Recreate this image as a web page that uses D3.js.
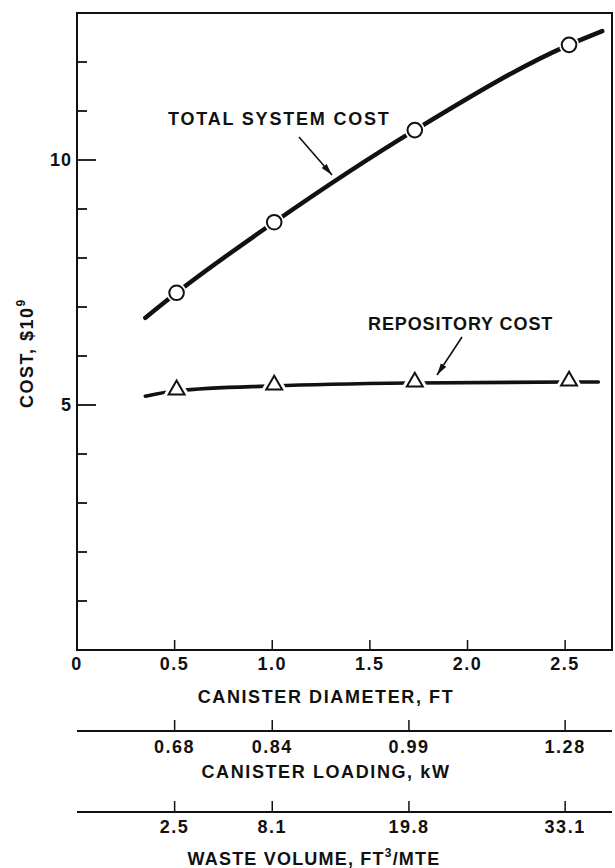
<!DOCTYPE html>
<html>
<head>
<meta charset="utf-8">
<script src="https://cdn.jsdelivr.net/npm/d3@7"></script>
<style>
  body { margin: 0; background: #fff; }
  svg text { font-family: "Liberation Sans", Arial, sans-serif; font-weight: bold; fill: #111; }
</style>
</head>
<body>
<div id="chart"></div>
<script>
// canister diameter (ft) of the four cases
var caseDiameter = [0.51, 1.01, 1.73, 2.52];
var totalCost = [7.29, 8.73, 10.61, 12.35];       // $10^9
var repositoryCost = [5.29, 5.39, 5.45, 5.47];    // $10^9

// faired curves run a bit past the end points
var totalCurveX = [0.35, 0.51, 1.01, 1.73, 2.52, 2.69];
var totalCurveY = [6.78, 7.29, 8.73, 10.61, 12.35, 12.63];
var repoCurveX = [0.35, 0.51, 1.01, 1.73, 2.52, 2.67];
var repoCurveY = [5.18, 5.29, 5.39, 5.45, 5.47, 5.47];

var diameterTicks = [0, 0.5, 1.0, 1.5, 2.0, 2.5];
var costTicks = [1, 2, 3, 4, 5, 6, 7, 8, 9, 10, 11, 12];
var costLabels = [5, 10];

// secondary scales, ticks placed at the diameters of the cases
var secondaryTickPos = [0.5, 1.0, 1.7, 2.5];
var loadingLabels = ["0.68", "0.84", "0.99", "1.28"];
var wasteLabels = ["2.5", "8.1", "19.8", "33.1"];

var width = 615, height = 868;
var plotL = 77, plotR = 612, plotT = 13, plotB = 650;

var svg = d3.select("#chart").append("svg")
    .attr("width", width)
    .attr("height", height);

var x = d3.scaleLinear().domain([0, 2.74]).range([plotL, plotR]);
var y = d3.scaleLinear().domain([0, 13]).range([plotB, plotT]);

svg.append("defs").append("marker")
    .attr("id", "arrow")
    .attr("viewBox", "0 0 12 8")
    .attr("refX", 12).attr("refY", 4)
    .attr("markerWidth", 12).attr("markerHeight", 8)
    .attr("markerUnits", "userSpaceOnUse")
    .attr("orient", "auto")
  .append("path")
    .attr("d", "M0,0.8 L12,4 L0,7.2 Z")
    .attr("fill", "#111");

// frame
svg.append("rect")
    .attr("x", plotL).attr("y", plotT)
    .attr("width", plotR - plotL).attr("height", plotB - plotT)
    .attr("fill", "none")
    .attr("stroke", "#111")
    .attr("stroke-width", 2);

// y ticks (inside)
svg.append("g").selectAll("line")
    .data(costTicks)
    .enter().append("line")
      .attr("x1", plotL)
      .attr("x2", function(d) { return costLabels.indexOf(d) >= 0 ? plotL + 19 : plotL + 10; })
      .attr("y1", function(d) { return y(d); })
      .attr("y2", function(d) { return y(d); })
      .attr("stroke", "#111")
      .attr("stroke-width", 1.8);

svg.append("g").selectAll("text")
    .data(costLabels)
    .enter().append("text")
      .attr("x", plotL - 5)
      .attr("y", function(d) { return y(d) + 6; })
      .attr("text-anchor", "end")
      .style("font-size", "18px")
      .style("letter-spacing", "1px")
      .text(function(d) { return d; });

// y title
var yt = svg.append("text")
    .attr("transform", "translate(33,408) rotate(-90)")
    .style("font-size", "18px")
    .style("letter-spacing", "1.5px");
yt.append("tspan").text("COST, $10");
yt.append("tspan").attr("dy", -8).style("font-size", "12px").text("9");

// x ticks (inside)
svg.append("g").selectAll("line")
    .data(diameterTicks.filter(function(d) { return d > 0; }))
    .enter().append("line")
      .attr("x1", function(d) { return x(d); })
      .attr("x2", function(d) { return x(d); })
      .attr("y1", plotB)
      .attr("y2", plotB - 10)
      .attr("stroke", "#111")
      .attr("stroke-width", 1.5);

svg.append("g").selectAll("text")
    .data(diameterTicks)
    .enter().append("text")
      .attr("x", function(d) { return x(d); })
      .attr("y", 670)
      .attr("text-anchor", "middle")
      .style("font-size", "18px")
      .style("letter-spacing", "1.5px")
      .text(function(d) { return d === 0 ? "0" : d3.format(".1f")(d); });

svg.append("text")
    .attr("x", 326).attr("y", 703)
    .attr("text-anchor", "middle")
    .style("font-size", "18px")
    .style("letter-spacing", "1.6px")
    .text("CANISTER DIAMETER, FT");

// secondary axes
function secondaryAxis(lineY, labels, labelY) {
  var g = svg.append("g");
  g.append("line")
      .attr("x1", plotL).attr("x2", plotR)
      .attr("y1", lineY).attr("y2", lineY)
      .attr("stroke", "#111").attr("stroke-width", 2);
  g.selectAll(".tk")
      .data(secondaryTickPos)
      .enter().append("line")
        .attr("x1", function(d) { return x(d); })
        .attr("x2", function(d) { return x(d); })
        .attr("y1", lineY)
        .attr("y2", lineY - 11)
        .attr("stroke", "#111")
        .attr("stroke-width", 1.5);
  g.selectAll("text")
      .data(labels)
      .enter().append("text")
        .attr("x", function(d, i) { return x(secondaryTickPos[i]); })
        .attr("y", labelY)
        .attr("text-anchor", "middle")
        .style("font-size", "18px")
        .style("letter-spacing", "1.5px")
        .text(function(d) { return d; });
  return g;
}

secondaryAxis(731, loadingLabels, 753);
svg.append("text")
    .attr("x", 326).attr("y", 778)
    .attr("text-anchor", "middle")
    .style("font-size", "18px")
    .style("letter-spacing", "1.6px")
    .text("CANISTER LOADING, kW");

secondaryAxis(812, wasteLabels, 833);
var wt = svg.append("text")
    .attr("x", 314).attr("y", 865)
    .attr("text-anchor", "middle")
    .style("font-size", "18px")
    .style("letter-spacing", "1.2px");
wt.append("tspan").text("WASTE VOLUME, FT");
wt.append("tspan").attr("dy", -8).style("font-size", "12px").text("3");
wt.append("tspan").attr("dy", 8).text("/MTE");

// curves
var line = d3.line()
    .x(function(d) { return x(d[0]); })
    .y(function(d) { return y(d[1]); })
    .curve(d3.curveMonotoneX);

svg.append("path")
    .datum(d3.zip(totalCurveX, totalCurveY))
    .attr("d", line)
    .attr("fill", "none")
    .attr("stroke", "#111")
    .attr("stroke-width", 4.5)
    .attr("stroke-linecap", "round");

svg.append("path")
    .datum(d3.zip(repoCurveX, repoCurveY))
    .attr("d", line)
    .attr("fill", "none")
    .attr("stroke", "#111")
    .attr("stroke-width", 3.6)
    .attr("stroke-linecap", "round");

// markers
var totalPts = d3.zip(caseDiameter, totalCost);
svg.append("g").selectAll("circle.halo")
    .data(totalPts)
    .enter().append("circle")
      .attr("cx", function(d) { return x(d[0]); })
      .attr("cy", function(d) { return y(d[1]); })
      .attr("r", 10)
      .attr("fill", "#fff");
svg.append("g").selectAll("circle.pt")
    .data(totalPts)
    .enter().append("circle")
      .attr("cx", function(d) { return x(d[0]); })
      .attr("cy", function(d) { return y(d[1]); })
      .attr("r", 7.3)
      .attr("fill", "#fff")
      .attr("stroke", "#111")
      .attr("stroke-width", 2);

var repoPts = d3.zip(caseDiameter, repositoryCost);
var tri = d3.symbol().type(d3.symbolTriangle);
svg.append("g").selectAll("path.halo")
    .data(repoPts)
    .enter().append("path")
      .attr("transform", function(d) { return "translate(" + x(d[0]) + "," + (y(d[1]) - 1) + ")"; })
      .attr("d", tri.size(190)())
      .attr("fill", "#fff")
      .attr("stroke", "#fff")
      .attr("stroke-width", 5);
svg.append("g").selectAll("path.pt")
    .data(repoPts)
    .enter().append("path")
      .attr("transform", function(d) { return "translate(" + x(d[0]) + "," + (y(d[1]) - 1) + ")"; })
      .attr("d", tri.size(110)())
      .attr("fill", "#fff")
      .attr("stroke", "#111")
      .attr("stroke-width", 2);

// annotations
svg.append("text")
    .attr("x", 168).attr("y", 125)
    .style("font-size", "18px")
    .style("letter-spacing", "1.8px")
    .text("TOTAL SYSTEM COST");
svg.append("line")
    .attr("x1", 299).attr("y1", 137)
    .attr("x2", 332).attr("y2", 175)
    .attr("stroke", "#111").attr("stroke-width", 1.6)
    .attr("marker-end", "url(#arrow)");

svg.append("text")
    .attr("x", 368).attr("y", 330)
    .style("font-size", "18px")
    .style("letter-spacing", "0.9px")
    .text("REPOSITORY COST");
svg.append("line")
    .attr("x1", 462).attr("y1", 337)
    .attr("x2", 437).attr("y2", 375)
    .attr("stroke", "#111").attr("stroke-width", 1.6)
    .attr("marker-end", "url(#arrow)");
</script>
</body>
</html>
